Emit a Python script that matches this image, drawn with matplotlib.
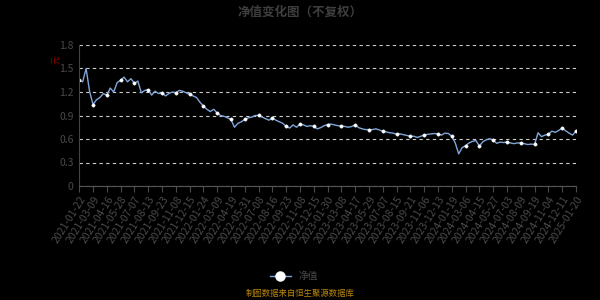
import numpy as np
import matplotlib.pyplot as plt

plt.rcParams['font.family'] = ['Noto Sans CJK SC', 'DejaVu Sans']

# x-axis category labels (one every 4 samples)
tick_labels = [
    '2021-01-22', '2021-03-09', '2021-04-16', '2021-05-28', '2021-07-07', '2021-08-13',
    '2021-09-23', '2021-11-08', '2021-12-15', '2022-01-24', '2022-03-09', '2022-04-19',
    '2022-05-31', '2022-07-08', '2022-08-16', '2022-09-23', '2022-11-08', '2022-12-15',
    '2023-01-30', '2023-03-08', '2023-04-17', '2023-05-29', '2023-07-07', '2023-08-15',
    '2023-09-21', '2023-11-06', '2023-12-13', '2024-01-19', '2024-03-06', '2024-04-15',
    '2024-05-27', '2024-07-03', '2024-08-09', '2024-09-19', '2024-11-04', '2024-12-11',
    '2025-01-20',
]

# net value, 4 samples per label interval
nav = [
    1.35, 1.33, 1.50, 1.21,   1.04, 1.10, 1.13, 1.18,   1.16, 1.25, 1.20, 1.32,
    1.35, 1.39, 1.33, 1.37,   1.31, 1.34, 1.19, 1.22,   1.23, 1.16, 1.21, 1.18,
    1.19, 1.15, 1.18, 1.20,   1.19, 1.22, 1.21, 1.19,   1.17, 1.15, 1.13, 1.07,
    1.02, 0.98, 0.95, 0.98,   0.93, 0.90, 0.89, 0.87,   0.85, 0.75, 0.80, 0.82,
    0.85, 0.87, 0.88, 0.90,   0.90, 0.88, 0.86, 0.84,   0.87, 0.84, 0.82, 0.80,
    0.76, 0.74, 0.78, 0.75,   0.79, 0.78, 0.76, 0.77,   0.76, 0.73, 0.745, 0.77,
    0.785, 0.79, 0.78, 0.77,  0.765, 0.76, 0.75, 0.76,  0.78, 0.745, 0.73, 0.72,
    0.72, 0.72, 0.73, 0.715,  0.70, 0.69, 0.68, 0.675,  0.66, 0.665, 0.655, 0.645,
    0.635, 0.635, 0.62, 0.635, 0.65, 0.66, 0.665, 0.67, 0.665, 0.65, 0.675, 0.67,
    0.635, 0.55, 0.41, 0.49,  0.515, 0.55, 0.57, 0.58,  0.51, 0.565, 0.59, 0.605,
    0.585, 0.545, 0.56, 0.555, 0.56, 0.55, 0.54, 0.55,  0.55, 0.54, 0.53, 0.535,
    0.53, 0.68, 0.63, 0.65,   0.66, 0.70, 0.685, 0.71,  0.74, 0.705, 0.675, 0.65,
    0.70,
]

step = 4
x = np.arange(len(nav))
line_color = '#7fa6d8'
text_gray = '#4a4a4a'

fig = plt.figure(figsize=(6, 3), dpi=100, facecolor='black')
ax = fig.add_axes([0.132, 0.38, 0.828, 0.47], facecolor='black')

ax.plot(x, nav, color=line_color, linewidth=1.0, label='净值',
        marker='o', markevery=step, markersize=2.4,
        markerfacecolor='white', markeredgecolor='white', markeredgewidth=0.3)

ax.set_xlim(0, len(nav) - 1)
ax.set_ylim(0, 1.8)
ax.set_yticks(np.arange(0, 1.81, 0.3))
ax.set_yticklabels(['0', '0.3', '0.6', '0.9', '1.2', '1.5', '1.8'])
ax.set_xticks(np.arange(0, len(nav), step))
ax.set_xticklabels(tick_labels, rotation=58, ha='right', rotation_mode='anchor')

ax.tick_params(axis='y', colors=text_gray, labelsize=7.5, length=0, pad=4)
ax.tick_params(axis='x', colors=text_gray, labelsize=7.5, length=4, pad=2)
for lab in ax.get_xticklabels() + ax.get_yticklabels():
    lab.set_color(text_gray)

ax.grid(axis='y', color='#cccccc', linestyle=(0, (3, 3)), linewidth=0.8)
ax.grid(axis='x', visible=False)
for side in ['top', 'right']:
    ax.spines[side].set_visible(False)
ax.spines['left'].set_color('#444444')
ax.spines['bottom'].set_color('#555555')

fig.text(0.5, 0.96, '净值变化图（不复权）', ha='center', va='center',
         color='#3e3e3e', fontsize=9, fontweight='bold')
fig.text(0.094, 0.80, '元', ha='center', va='center', color='#8b0000',
         fontsize=6, rotation=90)

leg = fig.legend(loc='center', bbox_to_anchor=(0.49, 0.08), frameon=False,
                 fontsize=7, handlelength=2.2, markerscale=3)
for t in leg.get_texts():
    t.set_color(text_gray)

fig.text(0.5, 0.022, '制图数据来自恒生聚源数据库', ha='center', va='center',
         color='#b8860b', fontsize=6)

fig.savefig('out.png', dpi=100, facecolor='black')
